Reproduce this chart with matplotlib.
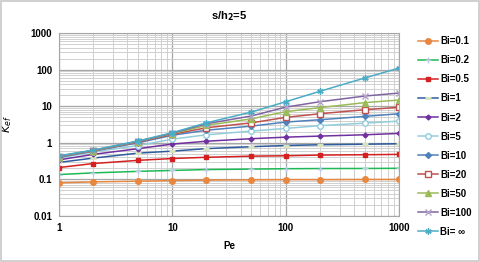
import matplotlib.pyplot as plt
import matplotlib.ticker as ticker

plt.rcParams['font.family'] = ['Liberation Sans', 'DejaVu Sans']

pe = [1, 2, 5, 10, 20, 50, 100, 200, 500, 1000]

bi_01 = [0.08, 0.085, 0.089, 0.092, 0.095, 0.097, 0.098, 0.098, 0.099, 0.099]
bi_02 = [0.135, 0.15, 0.165, 0.175, 0.185, 0.19, 0.195, 0.197, 0.198, 0.2]
bi_05 = [0.21, 0.27, 0.33, 0.37, 0.40, 0.43, 0.44, 0.46, 0.47, 0.48]
bi_1 = [0.29, 0.38, 0.52, 0.59, 0.69, 0.78, 0.84, 0.88, 0.91, 0.94]
bi_2 = [0.34, 0.48, 0.69, 0.92, 1.1, 1.29, 1.42, 1.52, 1.65, 1.8]
bi_5 = [0.38, 0.56, 0.84, 1.25, 1.65, 2.08, 2.47, 2.92, 3.44, 3.9]
bi_10 = [0.40, 0.59, 1.0, 1.6, 2.2, 2.85, 3.67, 4.25, 5.25, 6.2]
bi_20 = [0.42, 0.6, 1.05, 1.7, 2.57, 3.5, 4.93, 6.2, 8.0, 9.3]
bi_50 = [0.42, 0.61, 1.08, 1.78, 2.98, 4.5, 7.07, 9.1, 12.5, 14.7]
bi_100 = [0.43, 0.62, 1.1, 1.83, 3.3, 5.4, 9.4, 13.2, 18.9, 22.8]
bi_inf = [0.44, 0.63, 1.12, 1.88, 3.5, 6.9, 13.2, 25.4, 58.9, 110]

labels = ["Bi=0.1", "Bi=0.2", "Bi=0.5", "Bi=1", "Bi=2", "Bi=5",
          "Bi=10", "Bi=20", "Bi=50", "Bi=100", "Bi= \u221e"]
series = [bi_01, bi_02, bi_05, bi_1, bi_2, bi_5, bi_10, bi_20, bi_50, bi_100, bi_inf]

# (line colour, marker, marker face, marker edge, marker size)
styles = [
    ("#E8873F", "o", "#E8873F", "#E8873F", 4),
    ("#1DB954", "+", "#B9CDE5", "#B9CDE5", 4.5),
    ("#D42020", "s", "#D42020", "#D42020", 2.5),
    ("#2E5C9E", "_", "#D7E4BD", "#D7E4BD", 5),
    ("#7030A0", "D", "#7030A0", "#7030A0", 2.5),
    ("#92CDDC", "o", "white", "#92CDDC", 4),
    ("#4F81BD", "D", "#4F81BD", "#4F81BD", 3),
    ("#C0504D", "s", "white", "#C0504D", 4),
    ("#9BBB59", "^", "#9BBB59", "#9BBB59", 4),
    ("#8064A2", "x", "#B3A2C7", "#B3A2C7", 4.5),
    ("#4BACC6", (6, 2, 0), "#4BACC6", "#4BACC6", 4.5),
]

fig = plt.figure(figsize=(4.8, 2.62), dpi=100)
fig.patches.append(plt.Rectangle((0.003, 0.005), 0.994, 0.99, transform=fig.transFigure,
                                 fill=False, edgecolor="#C8C8C8", lw=1.2))
ax = fig.add_axes([0.123, 0.176, 0.708, 0.698])

for y, lab, (c, m, mf, me, ms) in zip(series, labels, styles):
    mew = 2.2 if m == "_" else 1.0
    ax.plot(pe, y, color=c, lw=1.1, marker=m, markerfacecolor=mf,
            markeredgecolor=me, markersize=ms, markeredgewidth=mew, label=lab)

ax.set_xscale("log")
ax.set_yscale("log")
ax.set_xlim(1, 1000)
ax.set_ylim(0.01, 1000)
ax.xaxis.set_major_formatter(ticker.FuncFormatter(lambda v, p: "%g" % v))
ax.yaxis.set_major_formatter(ticker.FuncFormatter(lambda v, p: "%g" % v))
ax.xaxis.set_minor_locator(ticker.LogLocator(base=10, subs=range(2, 10)))
ax.yaxis.set_minor_locator(ticker.LogLocator(base=10, subs=range(2, 10)))
ax.xaxis.set_minor_formatter(ticker.NullFormatter())
ax.yaxis.set_minor_formatter(ticker.NullFormatter())
ax.grid(which="major", color="#A6A6A6", lw=0.9)
ax.grid(which="minor", color="#D0D0D0", lw=0.7)
ax.set_axisbelow(True)
ax.tick_params(which="both", length=0, labelsize=7, pad=5)
for t in ax.get_xticklabels() + ax.get_yticklabels():
    t.set_fontweight("bold")
for s in ax.spines.values():
    s.set_color("#A6A6A6")

ax.set_title(r"s/h$_\mathbf{2}$=5", fontsize=8, fontweight="bold", pad=10)
ax.set_xlabel("Pe", fontsize=7, fontweight="bold", labelpad=6)
ax.set_ylabel(r"$\mathit{K}_{\mathit{ef}}$", fontsize=8, fontweight="bold", labelpad=12)

ax.legend(loc="upper left", bbox_to_anchor=(1.045, 1.003), frameon=False,
          prop={"size": 7, "weight": "bold"}, handlelength=2.0,
          labelspacing=0.93, handletextpad=0.3, borderaxespad=0)

fig.savefig("out.png", dpi=100)
